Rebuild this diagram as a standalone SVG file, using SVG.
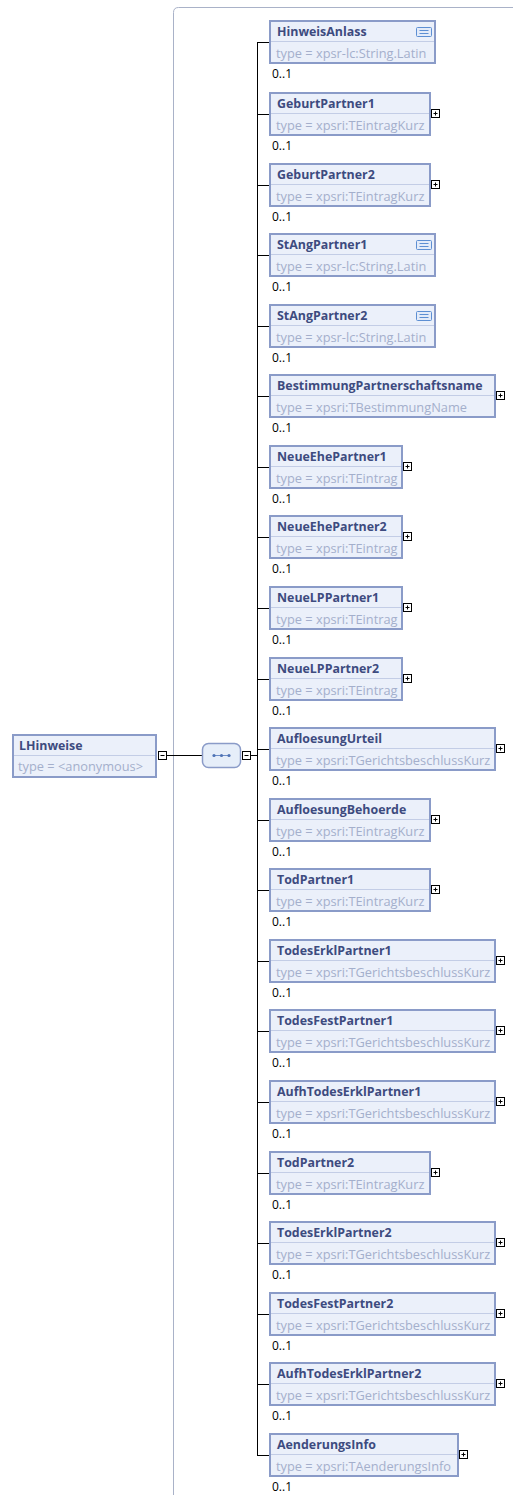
<svg xmlns="http://www.w3.org/2000/svg" width="513" height="1495" viewBox="0 0 513 1495">
<defs>
<style>
.box{fill:#ebf0fa;stroke:#8a9bc8;stroke-width:2}
.sep{stroke:#c3cde6;stroke-width:1}
.nm{font-family:"Open Sans","Liberation Sans",sans-serif;font-size:12.4px;font-weight:bold;fill:#3d4b7f}
.tp{font-family:"Open Sans","Liberation Sans",sans-serif;font-size:12.8px;fill:#a4afcc}
.oc{font-family:"Open Sans","Liberation Sans",sans-serif;font-size:12px;fill:#000}
.ico{fill:#fff;stroke:#000;stroke-width:1}
.icl{stroke:#000;stroke-width:1}
.doc{fill:#e3ebf9;stroke:#5d8fd3;stroke-width:1}
.docl{stroke:#5d8fd3;stroke-width:1}
.con{stroke:#000;stroke-width:1;fill:none}
</style>
<g id="plus"><rect class="ico" x="0.5" y="0.5" width="8" height="8"/><path class="icl" d="M2.5 4.5H6.5M4.5 2.5V6.5"/></g>
<g id="minus"><rect class="ico" x="0.5" y="0.5" width="8" height="8"/><path class="icl" d="M2.5 4.5H6.5"/></g>
<g id="docicon"><rect class="doc" x="0.5" y="0.5" width="15" height="9" rx="1"/><path class="docl" d="M3.5 3.5H12.5M3.5 6.5H12.5"/></g>
</defs>
<rect width="513" height="1495" fill="#fff"/>
<path id="frame" d="M513 7.5H178.5Q173.5 7.5 173.5 12.5V1495" fill="none" stroke="#a9b2c8" stroke-width="1"/>

<g id="connectors">
<path class="con" d="M166 755.5H202"/>
<path class="con" d="M251 755.5H257.5"/>
<path class="con" d="M257.5 42V1455"/>
<path class="con" d="M257.5 42.5H269"/>
<path class="con" d="M257.5 114.5H269"/>
<path class="con" d="M257.5 185.5H269"/>
<path class="con" d="M257.5 255.5H269"/>
<path class="con" d="M257.5 326.5H269"/>
<path class="con" d="M257.5 396.5H269"/>
<path class="con" d="M257.5 467.5H269"/>
<path class="con" d="M257.5 537.5H269"/>
<path class="con" d="M257.5 608.5H269"/>
<path class="con" d="M257.5 679.5H269"/>
<path class="con" d="M257.5 749.5H269"/>
<path class="con" d="M257.5 820.5H269"/>
<path class="con" d="M257.5 890.5H269"/>
<path class="con" d="M257.5 961.5H269"/>
<path class="con" d="M257.5 1031.5H269"/>
<path class="con" d="M257.5 1102.5H269"/>
<path class="con" d="M257.5 1173.5H269"/>
<path class="con" d="M257.5 1243.5H269"/>
<path class="con" d="M257.5 1314.5H269"/>
<path class="con" d="M257.5 1384.5H269"/>
<path class="con" d="M257 1455.5H269"/>
</g>

<g id="LHinweise">
<rect class="box" x="13" y="735" width="143" height="42"/>
<line class="sep" x1="14" y1="755.5" x2="155" y2="755.5"/>
<text class="nm" x="19" y="750">LHinweise</text>
<text class="tp" x="18" y="771">type = &lt;anonymous&gt;</text>
<use href="#minus" x="158" y="751"/>
</g>

<g id="sequence">
<rect x="202.5" y="743.5" width="38" height="24" rx="6" fill="#e6eef9" stroke="#8a9bc8" stroke-width="1.5"/>
<line x1="213" y1="755.5" x2="230" y2="755.5" stroke="#6f8fc8" stroke-width="1"/>
<circle cx="214" cy="755.5" r="1.6" fill="#4f73b5"/>
<circle cx="221.5" cy="755.5" r="1.6" fill="#4f73b5"/>
<circle cx="229" cy="755.5" r="1.6" fill="#4f73b5"/>
<use href="#minus" x="242" y="751"/>
</g>

<g id="HinweisAnlass">
<rect class="box" x="270" y="21" width="165" height="42"/>
<line class="sep" x1="271" y1="41.5" x2="434" y2="41.5"/>
<text class="nm" x="277" y="36">HinweisAnlass</text>
<text class="tp" x="276" y="58">type = xpsr-lc:String.Latin</text>
<use href="#docicon" x="416" y="27"/>
<text class="oc" x="272" y="78">0..1</text>
</g>

<g id="GeburtPartner1">
<rect class="box" x="270" y="93" width="160" height="42"/>
<line class="sep" x1="271" y1="113.5" x2="429" y2="113.5"/>
<text class="nm" x="277" y="108">GeburtPartner1</text>
<text class="tp" x="276" y="130">type = xpsri:TEintragKurz</text>
<use href="#plus" x="431" y="109"/>
<text class="oc" x="272" y="150">0..1</text>
</g>

<g id="GeburtPartner2">
<rect class="box" x="270" y="164" width="160" height="42"/>
<line class="sep" x1="271" y1="184.5" x2="429" y2="184.5"/>
<text class="nm" x="277" y="179">GeburtPartner2</text>
<text class="tp" x="276" y="201">type = xpsri:TEintragKurz</text>
<use href="#plus" x="431" y="180"/>
<text class="oc" x="272" y="221">0..1</text>
</g>

<g id="StAngPartner1">
<rect class="box" x="270" y="234" width="165" height="42"/>
<line class="sep" x1="271" y1="254.5" x2="434" y2="254.5"/>
<text class="nm" x="277" y="249">StAngPartner1</text>
<text class="tp" x="276" y="271">type = xpsr-lc:String.Latin</text>
<use href="#docicon" x="416" y="240"/>
<text class="oc" x="272" y="291">0..1</text>
</g>

<g id="StAngPartner2">
<rect class="box" x="270" y="305" width="165" height="42"/>
<line class="sep" x1="271" y1="325.5" x2="434" y2="325.5"/>
<text class="nm" x="277" y="320">StAngPartner2</text>
<text class="tp" x="276" y="342">type = xpsr-lc:String.Latin</text>
<use href="#docicon" x="416" y="311"/>
<text class="oc" x="272" y="362">0..1</text>
</g>

<g id="BestimmungPartnerschaftsname">
<rect class="box" x="270" y="375" width="225" height="42"/>
<line class="sep" x1="271" y1="395.5" x2="494" y2="395.5"/>
<text class="nm" x="277" y="390">BestimmungPartnerschaftsname</text>
<text class="tp" x="276" y="412">type = xpsri:TBestimmungName</text>
<use href="#plus" x="496" y="391"/>
<text class="oc" x="272" y="432">0..1</text>
</g>

<g id="NeueEhePartner1">
<rect class="box" x="270" y="446" width="132" height="42"/>
<line class="sep" x1="271" y1="466.5" x2="401" y2="466.5"/>
<text class="nm" x="277" y="461">NeueEhePartner1</text>
<text class="tp" x="276" y="483">type = xpsri:TEintrag</text>
<use href="#plus" x="403" y="462"/>
<text class="oc" x="272" y="503">0..1</text>
</g>

<g id="NeueEhePartner2">
<rect class="box" x="270" y="516" width="132" height="42"/>
<line class="sep" x1="271" y1="536.5" x2="401" y2="536.5"/>
<text class="nm" x="277" y="531">NeueEhePartner2</text>
<text class="tp" x="276" y="553">type = xpsri:TEintrag</text>
<use href="#plus" x="403" y="532"/>
<text class="oc" x="272" y="573">0..1</text>
</g>

<g id="NeueLPPartner1">
<rect class="box" x="270" y="587" width="132" height="42"/>
<line class="sep" x1="271" y1="607.5" x2="401" y2="607.5"/>
<text class="nm" x="277" y="602">NeueLPPartner1</text>
<text class="tp" x="276" y="624">type = xpsri:TEintrag</text>
<use href="#plus" x="403" y="603"/>
<text class="oc" x="272" y="644">0..1</text>
</g>

<g id="NeueLPPartner2">
<rect class="box" x="270" y="658" width="132" height="42"/>
<line class="sep" x1="271" y1="678.5" x2="401" y2="678.5"/>
<text class="nm" x="277" y="673">NeueLPPartner2</text>
<text class="tp" x="276" y="695">type = xpsri:TEintrag</text>
<use href="#plus" x="403" y="674"/>
<text class="oc" x="272" y="715">0..1</text>
</g>

<g id="AufloesungUrteil">
<rect class="box" x="270" y="728" width="225" height="42"/>
<line class="sep" x1="271" y1="748.5" x2="494" y2="748.5"/>
<text class="nm" x="277" y="743">AufloesungUrteil</text>
<text class="tp" x="276" y="765">type = xpsri:TGerichtsbeschlussKurz</text>
<use href="#plus" x="496" y="744"/>
<text class="oc" x="272" y="785">0..1</text>
</g>

<g id="AufloesungBehoerde">
<rect class="box" x="270" y="799" width="160" height="42"/>
<line class="sep" x1="271" y1="819.5" x2="429" y2="819.5"/>
<text class="nm" x="277" y="814">AufloesungBehoerde</text>
<text class="tp" x="276" y="836">type = xpsri:TEintragKurz</text>
<use href="#plus" x="431" y="815"/>
<text class="oc" x="272" y="856">0..1</text>
</g>

<g id="TodPartner1">
<rect class="box" x="270" y="869" width="160" height="42"/>
<line class="sep" x1="271" y1="889.5" x2="429" y2="889.5"/>
<text class="nm" x="277" y="884">TodPartner1</text>
<text class="tp" x="276" y="906">type = xpsri:TEintragKurz</text>
<use href="#plus" x="431" y="885"/>
<text class="oc" x="272" y="926">0..1</text>
</g>

<g id="TodesErklPartner1">
<rect class="box" x="270" y="940" width="225" height="42"/>
<line class="sep" x1="271" y1="960.5" x2="494" y2="960.5"/>
<text class="nm" x="277" y="955">TodesErklPartner1</text>
<text class="tp" x="276" y="977">type = xpsri:TGerichtsbeschlussKurz</text>
<use href="#plus" x="496" y="956"/>
<text class="oc" x="272" y="997">0..1</text>
</g>

<g id="TodesFestPartner1">
<rect class="box" x="270" y="1010" width="225" height="42"/>
<line class="sep" x1="271" y1="1030.5" x2="494" y2="1030.5"/>
<text class="nm" x="277" y="1025">TodesFestPartner1</text>
<text class="tp" x="276" y="1047">type = xpsri:TGerichtsbeschlussKurz</text>
<use href="#plus" x="496" y="1026"/>
<text class="oc" x="272" y="1067">0..1</text>
</g>

<g id="AufhTodesErklPartner1">
<rect class="box" x="270" y="1081" width="225" height="42"/>
<line class="sep" x1="271" y1="1101.5" x2="494" y2="1101.5"/>
<text class="nm" x="277" y="1096">AufhTodesErklPartner1</text>
<text class="tp" x="276" y="1118">type = xpsri:TGerichtsbeschlussKurz</text>
<use href="#plus" x="496" y="1097"/>
<text class="oc" x="272" y="1138">0..1</text>
</g>

<g id="TodPartner2">
<rect class="box" x="270" y="1152" width="160" height="42"/>
<line class="sep" x1="271" y1="1172.5" x2="429" y2="1172.5"/>
<text class="nm" x="277" y="1167">TodPartner2</text>
<text class="tp" x="276" y="1189">type = xpsri:TEintragKurz</text>
<use href="#plus" x="431" y="1168"/>
<text class="oc" x="272" y="1209">0..1</text>
</g>

<g id="TodesErklPartner2">
<rect class="box" x="270" y="1222" width="225" height="42"/>
<line class="sep" x1="271" y1="1242.5" x2="494" y2="1242.5"/>
<text class="nm" x="277" y="1237">TodesErklPartner2</text>
<text class="tp" x="276" y="1259">type = xpsri:TGerichtsbeschlussKurz</text>
<use href="#plus" x="496" y="1238"/>
<text class="oc" x="272" y="1279">0..1</text>
</g>

<g id="TodesFestPartner2">
<rect class="box" x="270" y="1293" width="225" height="42"/>
<line class="sep" x1="271" y1="1313.5" x2="494" y2="1313.5"/>
<text class="nm" x="277" y="1308">TodesFestPartner2</text>
<text class="tp" x="276" y="1330">type = xpsri:TGerichtsbeschlussKurz</text>
<use href="#plus" x="496" y="1309"/>
<text class="oc" x="272" y="1350">0..1</text>
</g>

<g id="AufhTodesErklPartner2">
<rect class="box" x="270" y="1363" width="225" height="42"/>
<line class="sep" x1="271" y1="1383.5" x2="494" y2="1383.5"/>
<text class="nm" x="277" y="1378">AufhTodesErklPartner2</text>
<text class="tp" x="276" y="1400">type = xpsri:TGerichtsbeschlussKurz</text>
<use href="#plus" x="496" y="1379"/>
<text class="oc" x="272" y="1420">0..1</text>
</g>

<g id="AenderungsInfo">
<rect class="box" x="270" y="1434" width="188" height="42"/>
<line class="sep" x1="271" y1="1454.5" x2="457" y2="1454.5"/>
<text class="nm" x="277" y="1449">AenderungsInfo</text>
<text class="tp" x="276" y="1471">type = xpsri:TAenderungsInfo</text>
<use href="#plus" x="459" y="1450"/>
<text class="oc" x="272" y="1491">0..1</text>
</g>
</svg>
